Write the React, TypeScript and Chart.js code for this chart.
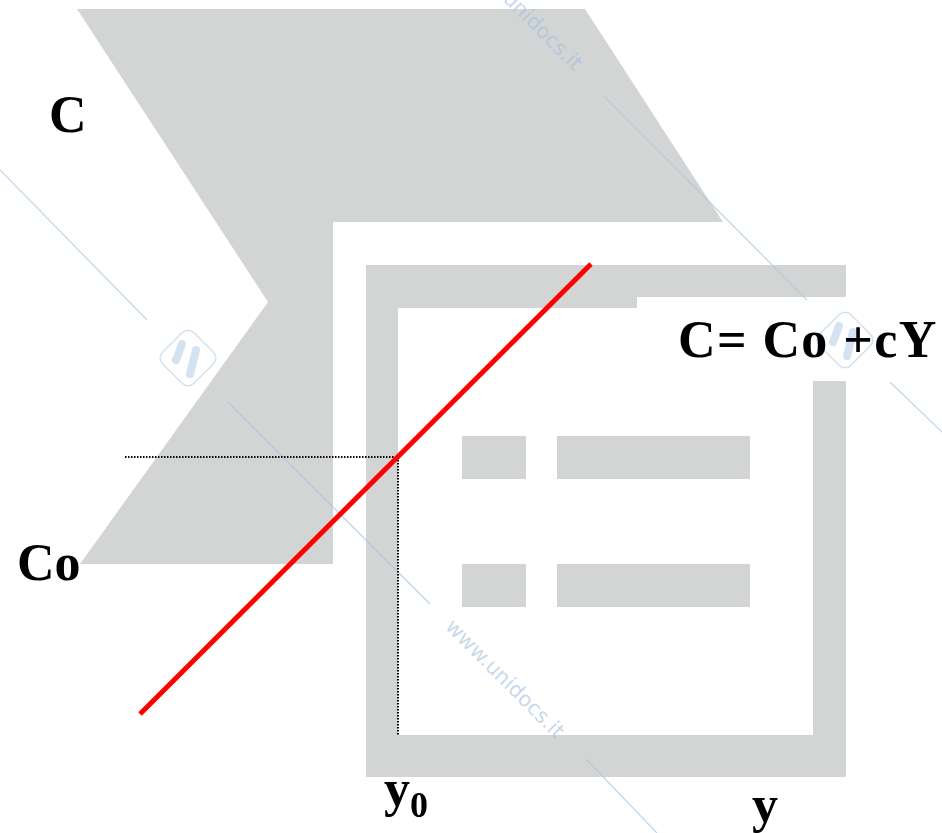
import React, { useEffect, useRef } from "react";
import { Chart, registerables } from "chart.js";

Chart.register(...registerables);

// Consumption function C = Co + cY (drawing units of the slide)
const incomeY = [140, 591];
const consumptionC = [714, 264];

// Reading guides at y0
const guideX = [125, 398, 398];
const guideY = [457, 457, 735];

// Background logo: chevron
const chevronX = [77, 585, 723, 333, 333, 80, 268];
const chevronY = [9, 9, 222, 222, 564, 564, 302];

// Background logo: frame
const frameX = [366, 846, 846, 637, 637, 398, 398, 813, 813, 846, 846, 366];
const frameY = [265, 265, 297, 297, 308, 308, 735, 735, 381, 381, 777, 777];

// Background logo: four bars
const barLeft = [462, 557, 462, 557];
const barRight = [526, 750, 526, 750];
const barTop = [436, 436, 564, 564];
const barBottom = [479, 479, 607, 607];

// Watermark diagonals
const wmStartX = [0, 228, 586, 604, 890];
const wmStartY = [170, 402, 759, 96, 382];
const wmEndX = [147, 430, 657, 807, 942];
const wmEndY = [320, 604, 833, 300, 432];

// Labels
const labelText = ["C", "Co", "C= Co +cY", "y", "y"];
const labelX = [49, 17, 678, 384, 752];
const labelY = [132, 580, 357, 806, 822];
const subText = ["", "", "", "0", ""];

const GRAY = "#d3d5d4";
const WM = "rgba(165,196,228,0.7)";

const pts = (xs: number[], ys: number[]) => xs.map((x, i) => ({ x, y: ys[i] }));

export default function App() {
  const ref = useRef<HTMLCanvasElement | null>(null);

  useEffect(() => {
    if (!ref.current) return;
    document.body.style.margin = "0";

    const shape = (data: { x: number; y: number }[]) => ({
      data,
      showLine: true,
      fill: "shape" as const,
      backgroundColor: GRAY,
      borderWidth: 0,
      borderColor: "rgba(0,0,0,0)",
      pointRadius: 0,
      tension: 0,
    });

    const bars = barLeft.map((l, i) =>
      shape(pts([l, barRight[i], barRight[i], l], [barTop[i], barTop[i], barBottom[i], barBottom[i]]))
    );

    const wmLines = wmStartX.map((sx, i) => ({
      data: pts([sx, wmEndX[i]], [wmStartY[i], wmEndY[i]]),
      showLine: true,
      fill: false,
      borderColor: WM,
      borderWidth: 1.2,
      pointRadius: 0,
    }));

    const overlay = {
      id: "overlay",
      afterDatasetsDraw(chart: any) {
        const ctx = chart.ctx as CanvasRenderingContext2D;
        const xs = chart.scales.x;
        const ys = chart.scales.y;
        const px = (v: number) => xs.getPixelForValue(v);
        const py = (v: number) => ys.getPixelForValue(v);
        ctx.save();
        // watermark text
        ctx.fillStyle = "rgba(160,192,225,0.6)";
        ctx.font = "21px 'DejaVu Sans'";
        ctx.textBaseline = "middle";
        const wmText = [
          { x: 448, y: 624 },
          { x: 466, y: -44 },
        ];
        wmText.forEach((p) => {
          ctx.save();
          ctx.translate(px(p.x), py(p.y));
          ctx.rotate(Math.PI / 4);
          ctx.fillText("www.unidocs.it", 0, 0);
          ctx.restore();
        });
        // watermark logos
        const logos = [
          { x: 188, y: 358 },
          { x: 845, y: 340 },
        ];
        logos.forEach((p) => {
          ctx.save();
          ctx.translate(px(p.x), py(p.y));
          ctx.strokeStyle = "rgba(190,212,235,0.7)";
          ctx.lineWidth = 1.5;
          ctx.save();
          ctx.rotate(Math.PI / 4);
          const s = 44;
          ctx.beginPath();
          (ctx as any).roundRect(-s / 2, -s / 2, s, s, 8);
          ctx.stroke();
          ctx.restore();
          ctx.strokeStyle = "rgba(200,220,238,0.8)";
          ctx.lineCap = "round";
          ctx.lineWidth = 8;
          ctx.beginPath();
          ctx.moveTo(-6, -14);
          ctx.lineTo(-12, 2);
          ctx.moveTo(8, -8);
          ctx.lineTo(2, 16);
          ctx.stroke();
          ctx.restore();
        });
        // labels
        ctx.fillStyle = "#000";
        ctx.textBaseline = "alphabetic";
        ctx.textAlign = "left";
        labelText.forEach((t, i) => {
          ctx.font = "bold 52px 'Liberation Serif'";
          (ctx as any).letterSpacing = t.length > 4 ? "1.4px" : "0px";
          ctx.fillText(t, px(labelX[i]), py(labelY[i]));
          (ctx as any).letterSpacing = "0px";
          if (subText[i]) {
            const w = ctx.measureText(t).width;
            ctx.font = "bold 36px 'Liberation Serif'";
            ctx.fillText(subText[i], px(labelX[i]) + w, py(labelY[i] + 11));
          }
        });
        ctx.restore();
      },
    };

    const chart = new Chart(ref.current, {
      type: "scatter",
      data: {
        datasets: [
          {
            data: pts(incomeY, consumptionC),
            showLine: true,
            fill: false,
            borderColor: "#ff0000",
            borderWidth: 5,
            borderCapStyle: "butt",
            pointRadius: 0,
          },
          {
            data: pts(guideX, guideY),
            showLine: true,
            fill: false,
            borderColor: "#000",
            borderWidth: 2,
            borderDash: [1.5, 1.5],
            pointRadius: 0,
          },
          ...wmLines,
          ...bars,
          shape(pts(frameX, frameY)),
          shape(pts(chevronX, chevronY)),
        ] as any,
      },
      options: {
        responsive: false,
        animation: false,
        events: [],
        layout: { padding: 0 },
        plugins: { legend: { display: false }, tooltip: { enabled: false } },
        scales: {
          x: { type: "linear", min: 0, max: 942, display: false },
          y: { type: "linear", min: 0, max: 833, reverse: true, display: false },
        },
      },
      plugins: [overlay],
    });
    return () => chart.destroy();
  }, []);

  return (
    <div style={{ position: "absolute", left: 0, top: 0, width: 942, height: 833, background: "#fff" }}>
      <canvas ref={ref} width={942} height={833} style={{ display: "block" }} />
    </div>
  );
}
